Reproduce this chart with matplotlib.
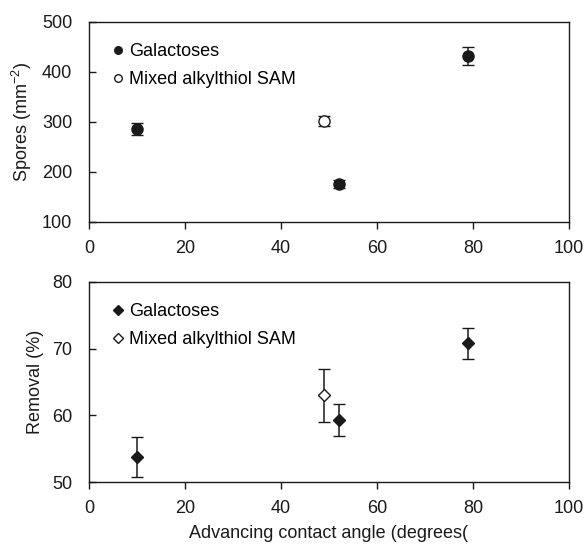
import matplotlib.pyplot as plt

plt.rcParams['font.family'] = ['Liberation Sans', 'DejaVu Sans']
plt.rcParams['mathtext.fontset'] = 'custom'
plt.rcParams['mathtext.rm'] = 'Liberation Sans'
plt.rcParams['font.size'] = 13

# galactose surfaces
gal_angle = [10, 52, 79]
gal_spores = [286, 176, 432]
gal_spores_err = [12, 8, 18]
gal_removal = [53.8, 59.3, 70.8]
gal_removal_err = [3.0, 2.45, 2.3]

# mixed alkylthiol SAM
sam_angle = [49]
sam_spores = [302]
sam_spores_err = [10]
sam_removal = [63.0]
sam_removal_err = [4.0]

ink = '#1a1a1a'
fig = plt.figure(figsize=(5.87, 5.5), dpi=100)
ax1 = fig.add_axes([0.1516, 0.5964, 0.8177, 0.3636])
ax2 = fig.add_axes([0.1516, 0.1236, 0.8177, 0.3637])

eb = dict(linestyle='none', ecolor=ink, elinewidth=1.1, capsize=4, capthick=1.1,
          markeredgecolor=ink, markeredgewidth=1.0)

ax1.errorbar(gal_angle, gal_spores, yerr=gal_spores_err, fmt='o', ms=8,
             color=ink, label='Galactoses', **eb)
ax1.errorbar(sam_angle, sam_spores, yerr=sam_spores_err, fmt='o', ms=8,
             color='white', label='Mixed alkylthiol SAM', **eb)
ax2.errorbar(gal_angle, gal_removal, yerr=gal_removal_err, fmt='D', ms=6.5,
             color=ink, label='Galactoses', **eb)
ax2.errorbar(sam_angle, sam_removal, yerr=sam_removal_err, fmt='D', ms=6.5,
             color='white', label='Mixed alkylthiol SAM', **eb)

ax1.set_ylim(100, 500)
ax1.set_yticks([100, 200, 300, 400, 500])
ax2.set_ylim(50, 80)
ax2.set_yticks([50, 60, 70, 80])
for ax, mscale in ((ax1, 0.68), (ax2, 0.78)):
    ax.set_xlim(0, 100)
    ax.set_xticks([0, 20, 40, 60, 80, 100])
    ax.tick_params(axis='x', direction='out', length=5, width=1, pad=8,
                   colors=ink, labelcolor=ink)
    ax.tick_params(axis='y', direction='in', length=5, width=1, pad=12,
                   colors=ink, labelcolor=ink)
    for s in ax.spines.values():
        s.set_color(ink)
        s.set_linewidth(1)
    handles, labels = ax.get_legend_handles_labels()
    handles = [h[0] for h in handles]
    ax.legend(handles, labels, loc='upper left', bbox_to_anchor=(0.017, 0.975),
              frameon=False, handlelength=0.5, handletextpad=0.35,
              labelspacing=0.6, borderaxespad=0.5, markerscale=mscale, fontsize=13)

ax1.set_ylabel('Spores (mm$^{-2}$)', color=ink, labelpad=6)
ax2.set_ylabel('Removal (%)', color=ink, labelpad=6)
ax2.set_xlabel('Advancing contact angle (degrees(', color=ink, labelpad=6)

fig.savefig('out.png', dpi=100)
